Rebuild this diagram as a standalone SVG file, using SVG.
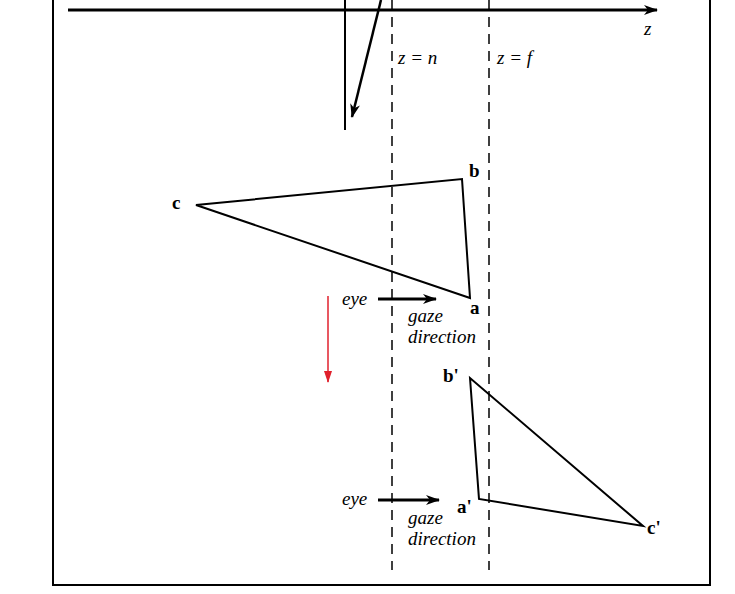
<svg xmlns="http://www.w3.org/2000/svg" width="735" height="594" viewBox="0 0 735 594">
<defs>
<marker id="ah" viewBox="0 0 14 10" refX="13" refY="5" markerWidth="14" markerHeight="10" markerUnits="userSpaceOnUse" orient="auto">
<path d="M0,0 L14,5 L0,10 L4,5 Z" fill="#000"/>
</marker>
<marker id="ahr" viewBox="0 0 12 8" refX="11" refY="4" markerWidth="12" markerHeight="8" markerUnits="userSpaceOnUse" orient="auto">
<path d="M0,0 L12,4 L0,8 Z" fill="#e0202c"/>
</marker>
<style>
.ln{stroke:#000;stroke-width:2;fill:none}
.thick{stroke:#000;stroke-width:3;fill:none}
.dash{stroke:#000;stroke-width:1.5;stroke-dasharray:10,7;fill:none}
.tri{stroke:#000;stroke-width:2;fill:none;stroke-linejoin:miter}
.it{font-family:"Liberation Serif","DejaVu Serif",serif;font-style:italic;font-size:19px;fill:#000}
.bd{font-family:"Liberation Serif","DejaVu Serif",serif;font-weight:bold;font-size:19px;fill:#000}
</style>
</defs>
<rect x="0" y="0" width="735" height="594" fill="#fff"/>
<rect id="frame" x="53" y="-10" width="657" height="595" fill="none" stroke="#000" stroke-width="2"/>
<g id="connectors">
<line class="thick" x1="68" y1="10" x2="657" y2="10" marker-end="url(#ah)"/>
<line class="ln" x1="345" y1="0" x2="345" y2="130"/>
<line class="thick" x1="381" y1="0" x2="352" y2="117" style="stroke-width:2.5" marker-end="url(#ah)"/>
<line class="dash" x1="392" y1="0" x2="392" y2="570"/>
<line class="dash" x1="489" y1="0" x2="489" y2="570"/>
<line x1="328" y1="296" x2="328" y2="382" style="stroke:#e0202c;stroke-width:1.5" marker-end="url(#ahr)"/>
<line class="thick" x1="378" y1="299" x2="436" y2="299" marker-end="url(#ah)"/>
<line class="thick" x1="378" y1="500" x2="439" y2="500" marker-end="url(#ah)"/>
</g>
<g id="labels-top">
<text class="it" x="644" y="35">z</text>
<text class="it" x="398" y="64">z = n</text>
<text class="it" x="497" y="64">z = f</text>
</g>
<g id="tri1">
<polygon class="tri" points="196,205 462,179 470,298"/>
<text class="bd" x="172" y="209">c</text>
<text class="bd" x="469" y="177">b</text>
<text class="bd" x="470" y="314">a</text>
</g>
<g id="eye1">
<text class="it" x="342" y="305">eye</text>
<text class="it" x="408" y="322">gaze</text>
<text class="it" x="408" y="343">direction</text>
</g>
<g id="tri2">
<polygon class="tri" points="470,378 479,499 643,526"/>
<text class="bd" x="443" y="382">b'</text>
<text class="bd" x="457" y="513">a'</text>
<text class="bd" x="647" y="534">c'</text>
</g>
<g id="eye2">
<text class="it" x="342" y="505">eye</text>
<text class="it" x="408" y="524">gaze</text>
<text class="it" x="408" y="545">direction</text>
</g>
</svg>
